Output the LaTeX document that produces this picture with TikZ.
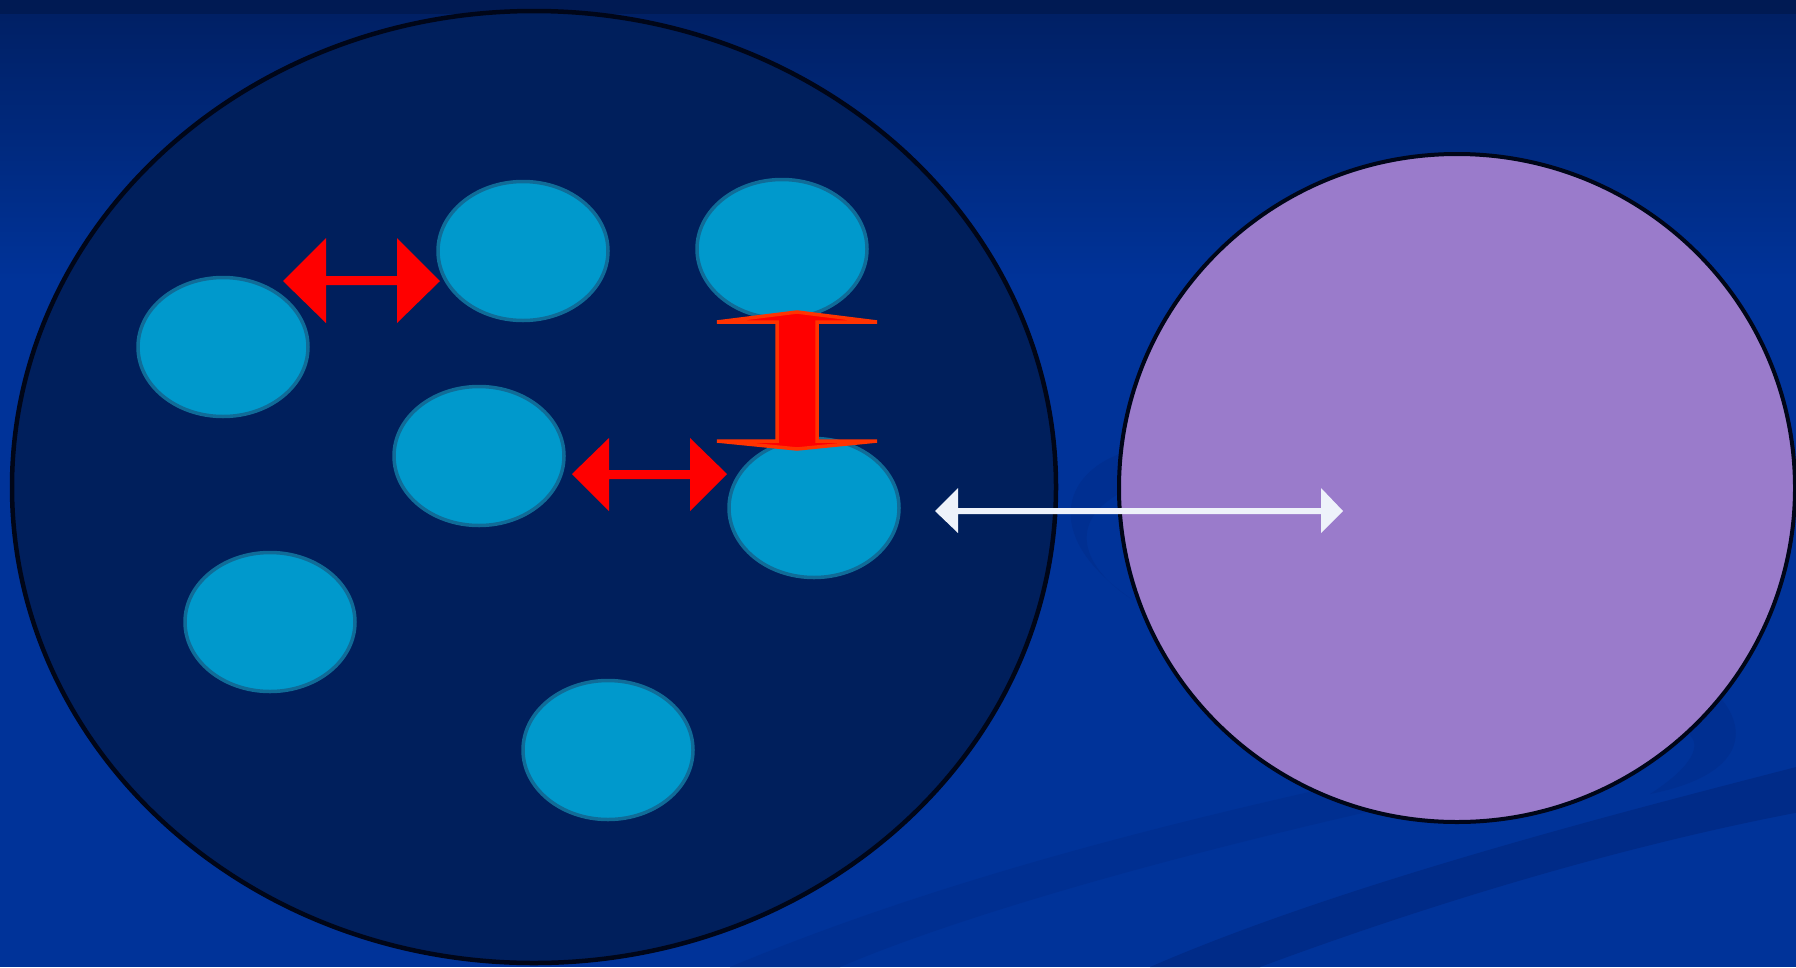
\documentclass[tikz,border=0pt]{standalone}
\usetikzlibrary{shapes.geometric}
\definecolor{bgblue}{RGB}{0,51,153}
\definecolor{bgtop}{RGB}{0,31,98}
\definecolor{bandA}{RGB}{0,47,145}
\definecolor{bandB}{RGB}{0,43,136}
\definecolor{bigfill}{RGB}{0,31,92}
\definecolor{bigline}{RGB}{0,6,24}
\definecolor{cyanfill}{RGB}{0,153,204}
\definecolor{cyanline}{RGB}{16,108,152}
\definecolor{purplefill}{RGB}{154,123,203}
\definecolor{arrowred}{RGB}{255,0,0}
\definecolor{arroworange}{RGB}{255,51,0}
\definecolor{arrowwhite}{RGB}{238,242,250}
\tikzset{
  bigell/.style={ellipse, inner sep=0pt, fill=bigfill, draw=bigline, line width=4.5pt},
  purpell/.style={ellipse, inner sep=0pt, fill=purplefill, draw=bigline, line width=4pt},
  cyanell/.style={ellipse, inner sep=0pt, fill=cyanfill, draw=cyanline, line width=3.5pt,
    minimum width=170pt, minimum height=139pt},
  redarrow/.style={fill=arrowred},
  vertarrow/.style={fill=arrowred, draw=arroworange, line width=3.5pt},
  whitearrow/.style={fill=arrowwhite}
}
\begin{document}
\begin{tikzpicture}[x=1pt,y=-1pt]
\useasboundingbox (0,0) rectangle (1796,967);
\clip (0,0) rectangle (1796,967);
% background
\fill[bgblue] (0,0) rectangle (1796,967);
\shade[top color=bgtop, bottom color=bgblue] (0,0) rectangle (1796,280);
\fill[bgtop!85!black] (0,0) rectangle (1796,14);
% decorative bands
\fill[bandA] (1400,772) .. controls (1200,815) and (950,875) .. (730,967)
  -- (840,967) .. controls (950,920) and (1150,860) .. (1420,800) -- cycle;
\fill[bandB] (1800,766) .. controls (1650,805) and (1350,880) .. (1150,967)
  -- (1260,967) .. controls (1400,915) and (1600,850) .. (1800,812) -- cycle;
% crescents behind the purple circle
\fill[bandA] (1170,440) -- (1117,455) .. controls (1060,478) and (1045,540) .. (1133,600)
  .. controls (1085,570) and (1060,520) .. (1130,488) -- (1170,480) -- cycle;
\fill[bandA] (1690,690) -- (1718,695) .. controls (1750,730) and (1745,775) .. (1650,794)
  .. controls (1695,765) and (1700,745) .. (1690,735) -- cycle;
% main shapes
\node[bigell, minimum width=1044pt, minimum height=952pt] (big) at (534,487) {};
\node[purpell, minimum width=676pt, minimum height=668pt] (purple) at (1457,488) {};
\node[cyanell] (c1) at (223,347) {};
\node[cyanell] (c2) at (523,251) {};
\node[cyanell] (c3) at (782,249) {};
\node[cyanell] (c4) at (479,456) {};
\node[cyanell] (c5) at (814,508) {};
\node[cyanell] (c6) at (270,622) {};
\node[cyanell] (c7) at (608,750) {};
% red double arrows
\fill[redarrow] (283,281) -- (326,238) -- (326,276) -- (397,276) -- (397,238) -- (440,281)
  -- (397,323) -- (397,285) -- (326,285) -- (326,323) -- cycle;
\fill[redarrow] (572,474) -- (609,438) -- (609,470) -- (690,470) -- (690,438) -- (727,474)
  -- (690,511) -- (690,479) -- (609,479) -- (609,511) -- cycle;
% vertical arrow
\filldraw[vertarrow] (797,312) -- (877,322) -- (817,322) -- (817,441) -- (877,441) -- (797,449)
  -- (717,441) -- (777,441) -- (777,322) -- (717,322) -- cycle;
% white double arrow
\fill[whitearrow] (935,511) -- (958,488) -- (958,508) -- (1321,508) -- (1321,488) -- (1343,511)
  -- (1321,533) -- (1321,514) -- (958,514) -- (958,533) -- cycle;
\end{tikzpicture}
\end{document}
